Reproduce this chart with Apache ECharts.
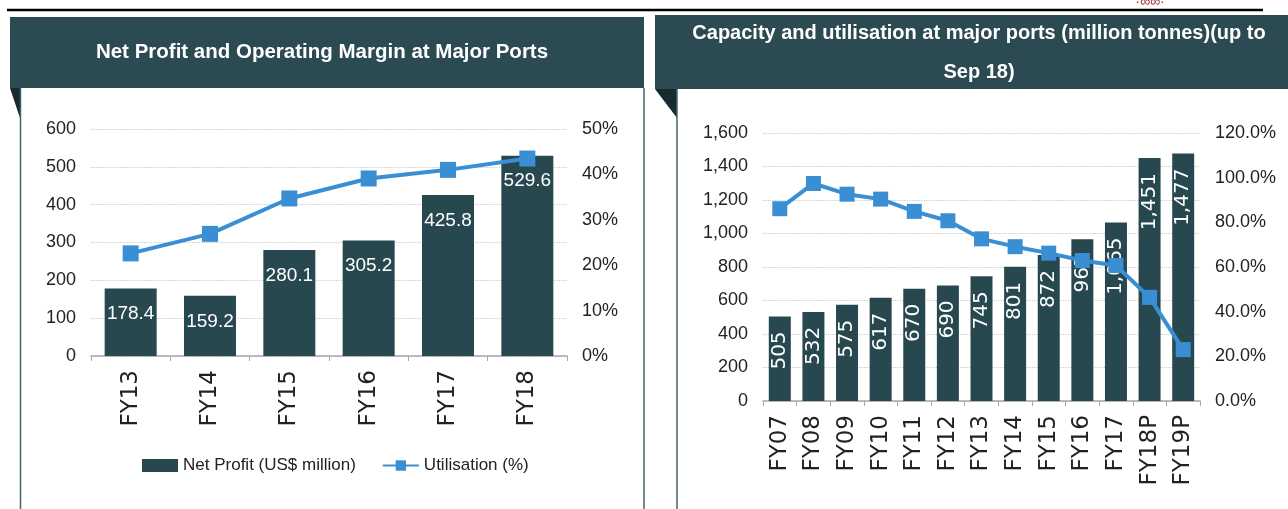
<!DOCTYPE html>
<html>
<head>
<meta charset="utf-8">
<script src="https://cdn.jsdelivr.net/npm/echarts@6/dist/echarts.min.js"></script>
<style>
html, body { margin: 0; padding: 0; background: #fff; }
#app { width: 1288px; height: 509px; }
</style>
</head>
<body>
<div id="app"></div>
<script>
// left chart: net profit + margin
const profitYears = ['FY13', 'FY14', 'FY15', 'FY16', 'FY17', 'FY18'];
const netProfit = [178.4, 159.2, 280.1, 305.2, 425.8, 529.6];
const marginPct = [22.6, 26.9, 34.7, 39.1, 41.0, 43.5];
const leftTicks = { min: 0, max: 600, interval: 100 };
const leftPctTicks = { min: 0, max: 50, interval: 10 };

// right chart: capacity + utilisation
const capYears = ['FY07', 'FY08', 'FY09', 'FY10', 'FY11', 'FY12', 'FY13', 'FY14', 'FY15', 'FY16', 'FY17', 'FY18P', 'FY19P'];
const capacity = [505, 532, 575, 617, 670, 690, 745, 801, 872, 965, 1065, 1451, 1477];
const utilisation = [86.1, 97.4, 92.6, 90.4, 84.9, 80.7, 72.6, 69.1, 66.2, 62.9, 60.7, 46.4, 23.0];
const capTicks = { min: 0, max: 1600, interval: 200 };
const capPctTicks = { min: 0, max: 120, interval: 20 };

const narrow = "'Liberation Sans', Arial, sans-serif";
const wide = "'DejaVu Sans', 'Liberation Sans', sans-serif";
const barColor = '#284850';
const headColor = '#2b4a52';
const blue = '#3a8fd4';
const txt = '#222';

const chart = echarts.init(document.getElementById('app'));

function catAxis(idx, data) {
    return {
        type: 'category', gridIndex: idx, data: data,
        axisLine: { lineStyle: { color: '#a6a6a6', width: 1.5 } },
        axisTick: { show: true, length: 5, lineStyle: { color: '#a6a6a6' } },
        axisLabel: { rotate: 90, margin: 14, color: txt, fontFamily: wide, fontSize: 23 }
    }
}
function valAxis(idx, t, pos, fmt, grid) {
    return {
        type: 'value', gridIndex: idx, position: pos,
        min: t.min, max: t.max, interval: t.interval,
        axisLine: { show: false }, axisTick: { show: false },
        axisLabel: { color: txt, fontFamily: narrow, fontSize: 18, margin: 15, formatter: fmt },
        splitLine: { show: grid, lineStyle: { color: '#c8c8c8', type: 'dotted', width: 1.2 } }
    }
}

const option = {
    animation: false,
    backgroundColor: '#fff',
    graphic: [
        { type: 'line', shape: { x1: 7, y1: 10, x2: 1263, y2: 10 }, style: { stroke: '#000', lineWidth: 2.5 } },
        { type: 'rect', shape: { x: 10, y: 17, width: 634, height: 71 }, style: { fill: headColor } },
        { type: 'rect', shape: { x: 655, y: 15, width: 633, height: 74 }, style: { fill: headColor } },
        { type: 'polygon', shape: { points: [[10, 88], [20, 88], [20, 118]] }, style: { fill: '#172a2f' } },
        { type: 'polygon', shape: { points: [[655, 89], [677, 89], [677, 118]] }, style: { fill: '#172a2f' } },
        { type: 'line', shape: { x1: 20.5, y1: 88, x2: 20.5, y2: 509 }, style: { stroke: '#4a636b', lineWidth: 1.5 } },
        { type: 'line', shape: { x1: 644, y1: 88, x2: 644, y2: 509 }, style: { stroke: '#4a636b', lineWidth: 1.5 } },
        { type: 'line', shape: { x1: 677, y1: 89, x2: 677, y2: 509 }, style: { stroke: '#4a636b', lineWidth: 1.5 } },
        { type: 'text', style: { text: '·∞∞·', x: 1150, y: -5, align: 'center', fill: '#a33035', fontSize: 14 } },
        {
            type: 'text', style: {
                text: 'Net Profit and Operating Margin at Major Ports', x: 322, y: 52,
                align: 'center', verticalAlign: 'middle', fill: '#fff', fontWeight: 'bold', fontFamily: narrow, fontSize: 20.5
            }
        },
        {
            type: 'text', style: {
                text: 'Capacity and utilisation at major ports (million tonnes)(up to', x: 979, y: 33,
                align: 'center', verticalAlign: 'middle', fill: '#fff', fontWeight: 'bold', fontFamily: narrow, fontSize: 20
            }
        },
        {
            type: 'text', style: {
                text: 'Sep 18)', x: 979, y: 72,
                align: 'center', verticalAlign: 'middle', fill: '#fff', fontWeight: 'bold', fontFamily: narrow, fontSize: 20
            }
        }
    ],
    legend: {
        data: [{ name: 'Net Profit (US$ million)', icon: 'rect' }, 'Utilisation (%)'],
        left: 137, top: 452, itemGap: 26, itemWidth: 36, itemHeight: 13,
        textStyle: { color: txt, fontFamily: narrow, fontSize: 17 }
    },
    grid: [
        { left: 91, right: 721, top: 129, bottom: 153 },
        { left: 763, right: 88, top: 133, bottom: 108 }
    ],
    xAxis: [catAxis(0, profitYears), catAxis(1, capYears)],
    yAxis: [
        valAxis(0, leftTicks, 'left', null, true),
        valAxis(0, leftPctTicks, 'right', '{value}%', false),
        valAxis(1, capTicks, 'left', v => v.toLocaleString('en-US'), true),
        valAxis(1, capPctTicks, 'right', v => v.toFixed(1) + '%', false)
    ],
    series: [
        {
            name: 'Net Profit (US$ million)', type: 'bar', xAxisIndex: 0, yAxisIndex: 0,
            data: netProfit, barWidth: 52, itemStyle: { color: barColor },
            label: { show: true, position: 'insideTop', distance: 16, color: '#fff', fontFamily: narrow, fontSize: 19 }
        },
        {
            name: 'Utilisation (%)', type: 'line', xAxisIndex: 0, yAxisIndex: 1,
            data: marginPct, symbol: 'rect', symbolSize: 16,
            itemStyle: { color: blue }, lineStyle: { color: blue, width: 4 }
        },
        {
            name: 'Capacity', type: 'bar', xAxisIndex: 1, yAxisIndex: 2,
            data: capacity, barWidth: 22, itemStyle: { color: barColor },
            label: {
                show: true, position: 'insideTop', distance: 15, rotate: 90, align: 'right', verticalAlign: 'middle',
                color: '#fff', fontFamily: wide, fontSize: 20,
                formatter: p => p.value.toLocaleString('en-US')
            }
        },
        {
            name: 'Utilisation', type: 'line', xAxisIndex: 1, yAxisIndex: 3,
            data: utilisation, symbol: 'rect', symbolSize: 15,
            itemStyle: { color: blue }, lineStyle: { color: blue, width: 4 }
        }
    ]
};

chart.setOption(option);
</script>
</body>
</html>
